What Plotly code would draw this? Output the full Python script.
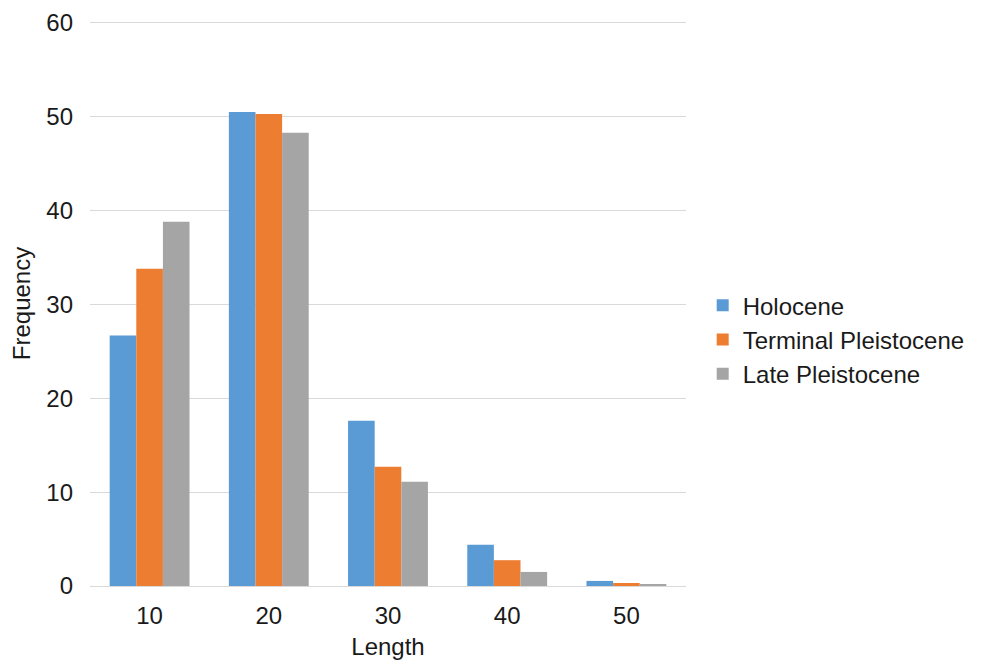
import plotly.graph_objects as go

categories = ["10", "20", "30", "40", "50"]
holocene = [26.7, 50.5, 17.6, 4.4, 0.54]
terminal_pleistocene = [33.8, 50.3, 12.7, 2.75, 0.32]
late_pleistocene = [38.8, 48.3, 11.1, 1.5, 0.14]

series = [
    ("Holocene", holocene, "#5B9BD5"),
    ("Terminal Pleistocene", terminal_pleistocene, "#ED7D31"),
    ("Late Pleistocene", late_pleistocene, "#A5A5A5"),
]

fig = go.Figure()
for name, vals, color in series:
    fig.add_trace(go.Bar(x=categories, y=vals, name=name, legendgroup=name,
                         marker=dict(color=color, line=dict(width=0))))

font = "Liberation Sans, Arial, sans-serif"
fig.update_layout(
    width=985, height=664,
    margin=dict(l=82, r=307, t=13, b=86),
    paper_bgcolor="white", plot_bgcolor="white",
    barmode="group", bargap=0.33, bargroupgap=0,
    font=dict(family=font, size=24, color="#1a1a1a"),
    legend=dict(x=1.028, y=0.436, xanchor="left", yanchor="middle",
                font=dict(size=24, color="#1a1a1a"), itemwidth=30,
                traceorder="normal", tracegroupgap=10.5),
    xaxis=dict(title=dict(text="Length", standoff=10, font=dict(size=24)),
               showline=True, linecolor="#d9d9d9", linewidth=1, automargin=False,
               ticks="", tickfont=dict(size=24), ticklabelstandoff=8),
    yaxis=dict(title=dict(text="Frequency", standoff=8, font=dict(size=24)),
               range=[0, 60.2], tick0=0, dtick=10, showgrid=True, gridcolor="#d9d9d9",
               gridwidth=1, zeroline=False, ticks="", tickfont=dict(size=24),
               ticklabelstandoff=16, automargin=False),
)
fig.write_html("out.html")
